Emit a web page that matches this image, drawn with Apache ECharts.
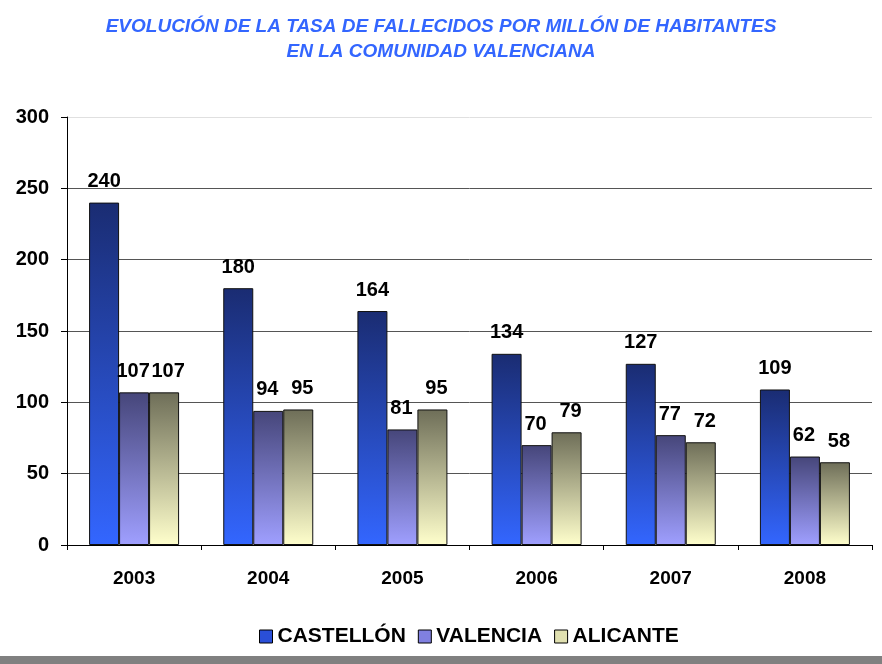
<!DOCTYPE html>
<html>
<head>
<meta charset="utf-8">
<script src="https://cdn.jsdelivr.net/npm/echarts@6/dist/echarts.min.js"></script>
<style>
  html, body { margin: 0; padding: 0; background: #fff; }
  #chart { width: 882px; height: 664px; }
  #footer { position: absolute; left: 0; top: 656px; width: 882px; height: 8px; background: #808080; }
</style>
</head>
<body>
<div id="chart"></div>
<div id="footer"></div>
<script>
// años
const years = ['2003', '2004', '2005', '2006', '2007', '2008'];
// tasa de fallecidos por millón
const castellon = [240, 180, 164, 134, 127, 109];
const valencia = [107, 94, 81, 70, 77, 62];
const alicante = [107, 95, 95, 79, 72, 58];

function grad(top, bottom) {
  return new echarts.graphic.LinearGradient(0, 0, 0, 1, [
    { offset: 0, color: top },
    { offset: 1, color: bottom }
  ]);
}

function labelStyle(dx) {
  return {
    show: true,
    position: 'top',
    distance: 11,
    offset: [dx, 0],
    color: '#000',
    fontWeight: 'bold',
    fontSize: 20,
    fontFamily: 'Liberation Sans, Arial, sans-serif'
  };
}

const chart = echarts.init(document.getElementById('chart'));
chart.setOption({
  animation: false,
  textStyle: { fontFamily: 'Liberation Sans, Arial, sans-serif' },
  title: {
    text: 'EVOLUCIÓN DE LA TASA DE FALLECIDOS POR MILLÓN DE HABITANTES\nEN LA COMUNIDAD VALENCIANA',
    left: 'center',
    top: 9,
    textStyle: {
      color: '#3366ff',
      fontSize: 19,
      fontWeight: 'bold',
      fontStyle: 'italic',
      lineHeight: 25
    }
  },
  legend: {
    bottom: 12,
    left: 254,
    icon: 'rect',
    itemWidth: 13,
    itemHeight: 13,
    itemGap: 12,
    textStyle: { color: '#000', fontSize: 21, fontWeight: 'bold' },
    data: [
      { name: 'CASTELLÓN', itemStyle: { color: '#2a4fd8', borderColor: '#000', borderWidth: 1 } },
      { name: 'VALENCIA', itemStyle: { color: '#8080e0', borderColor: '#000', borderWidth: 1 } },
      { name: 'ALICANTE', itemStyle: { color: '#e0e0b0', borderColor: '#000', borderWidth: 1 } }
    ]
  },
  grid: { left: 67, right: 10, top: 117, bottom: 119 },
  xAxis: {
    type: 'category',
    data: years,
    axisLine: { lineStyle: { color: '#000', width: 1 } },
    axisTick: { show: true, length: 5, lineStyle: { color: '#000' } },
    axisLabel: { color: '#000', fontSize: 19, fontWeight: 'bold', margin: 24 }
  },
  yAxis: {
    type: 'value',
    min: 0,
    max: 300,
    interval: 50,
    axisLine: { show: true, lineStyle: { color: '#000', width: 1 } },
    axisTick: { show: true, length: 6, lineStyle: { color: '#000' } },
    axisLabel: { color: '#000', fontSize: 20, fontWeight: 'bold', margin: 18 },
    splitLine: {
      show: true,
      lineStyle: { color: ['#555', '#555', '#555', '#555', '#555', '#555', '#e0e0e0'], width: 1 }
    }
  },
  series: [
    {
      name: 'CASTELLÓN',
      type: 'bar',
      data: castellon,
      barWidth: 30,
      barGap: '0%',
      itemStyle: { color: grad('#1a2c72', '#3366ff'), borderColor: '#111', borderWidth: 1 },
      label: labelStyle(0)
    },
    {
      name: 'VALENCIA',
      type: 'bar',
      data: valencia,
      barWidth: 30,
      barGap: '0%',
      itemStyle: { color: grad('#46467a', '#9f9fff'), borderColor: '#111', borderWidth: 1 },
      label: labelStyle(-1)
    },
    {
      name: 'ALICANTE',
      type: 'bar',
      data: alicante,
      barWidth: 30,
      barGap: '0%',
      itemStyle: { color: grad('#6e6e58', '#ffffcc'), borderColor: '#111', borderWidth: 1 },
      label: labelStyle(4)
    }
  ]
});
</script>
</body>
</html>
